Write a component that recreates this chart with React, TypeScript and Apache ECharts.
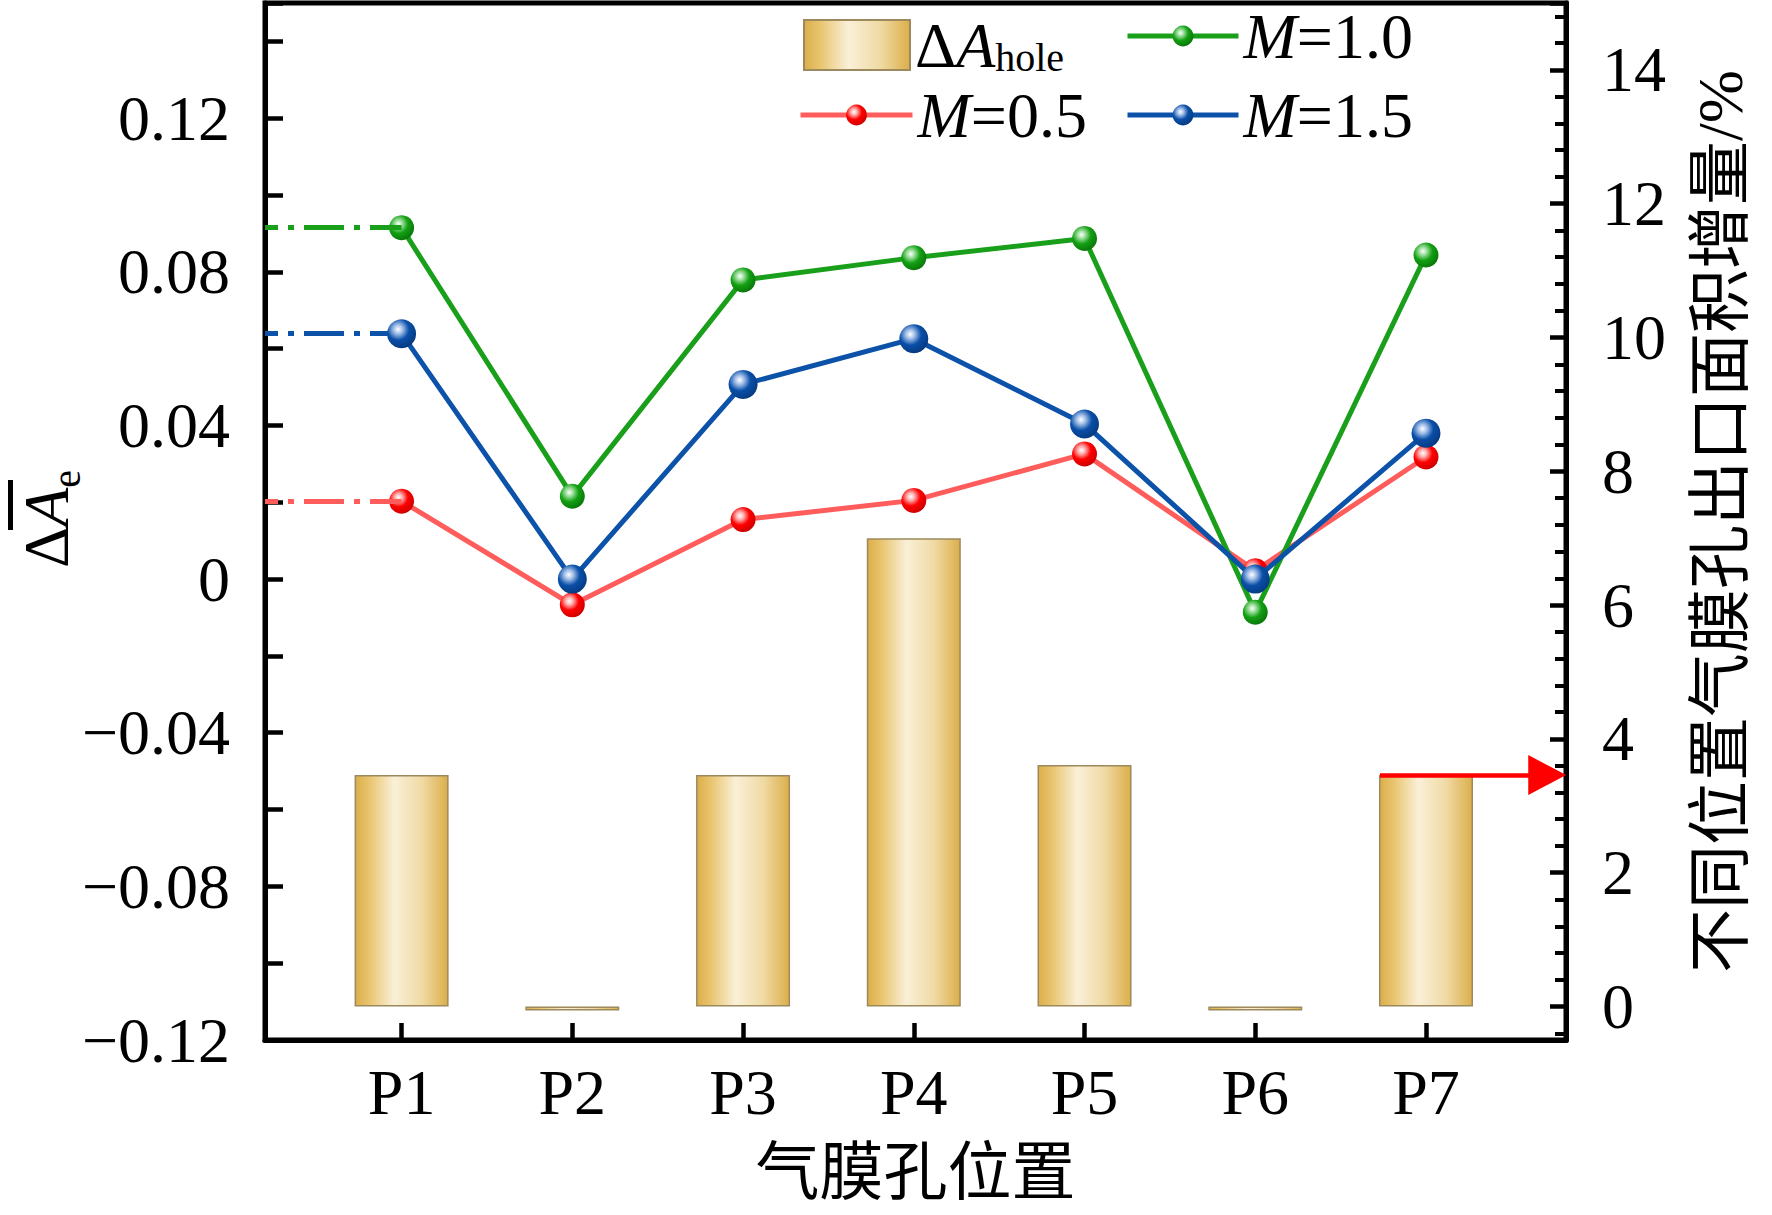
import React, { useEffect, useRef } from "react";
import * as echarts from "echarts";

// 气膜孔位置
const categories = ["P1", "P2", "P3", "P4", "P5", "P6", "P7"];
// 右轴：不同位置气膜孔出口面积增量 / %
const holeIncrease = [3.46, -0.06, 3.46, 7.0, 3.61, -0.06, 3.46];
// 左轴：ΔA_e
const m05 = [0.0203, -0.0067, 0.0155, 0.0205, 0.0326, 0.0022, 0.0318];
const m10 = [0.0915, 0.0216, 0.0779, 0.0837, 0.0887, -0.0086, 0.0844];
const m15 = [0.0639, 0.0, 0.0507, 0.0626, 0.0404, 0.0, 0.038];
const leftLabelStep = 0.04;
const rightLabelValues = [0, 2, 4, 6, 8, 10, 12, 14];

const serif = "'Liberation Serif', 'Times New Roman', serif";
const cjk = "'Liberation Serif', 'Noto Sans CJK SC', sans-serif";

const pts = (vals: number[]) => vals.map((v, i) => [i + 1, v]);

const ball = (light: string, base: string, dark: string) => ({
  type: "radial",
  x: 0.38,
  y: 0.35,
  r: 0.68,
  colorStops: [
    { offset: 0, color: "#ffffff" },
    { offset: 0.22, color: light },
    { offset: 0.55, color: base },
    { offset: 1, color: dark },
  ],
});

const dashDot = (color: string, v: number) => ({
  silent: true,
  symbol: ["none", "none"],
  label: { show: false },
  lineStyle: { color, width: 5, type: [40, 10, 6, 10], dashOffset: 27 },
  data: [[{ coord: [0.2, v] }, { coord: [1, v] }]],
});

const lineSeries = (name: string, vals: number[], lineColor: string, fill: any, size: number, z: number) => ({
  name,
  type: "line",
  xAxisIndex: 0,
  yAxisIndex: 0,
  data: pts(vals),
  symbol: "circle",
  symbolSize: size,
  lineStyle: { color: lineColor, width: 5 },
  itemStyle: { color: fill },
  z,
  markLine: dashDot(lineColor, vals[0]),
});

const mRich = {
  i: { fontFamily: serif, fontSize: 64, fontStyle: "italic", color: "#000" },
  n: { fontFamily: serif, fontSize: 64, color: "#000" },
};
const mFormatter = (name: string) => `{i|M}{n|${name.slice(1)}}`;

const App = () => {
  const chartRef = useRef<HTMLDivElement>(null);

  useEffect(() => {
    const chart = echarts.init(chartRef.current, null, { renderer: "svg" });

    chart.setOption({
      animation: false,
      backgroundColor: "#fff",
      grid: {
        left: 265,
        top: 3,
        width: 1301,
        height: 1037,
        show: true,
        borderColor: "#000",
        borderWidth: 5,
        containLabel: false,
        outerBoundsMode: "none",
      },
      legend: [
        {
          data: ["ΔAhole"],
          left: 798,
          top: 8,
          icon: "rect",
          itemWidth: 106,
          itemHeight: 50,
          formatter: () => "{d|Δ}{a|A}{s|hole}",
          textStyle: {
            rich: {
              d: { fontFamily: serif, fontSize: 64, lineHeight: 64, color: "#000" },
              a: { fontFamily: serif, fontSize: 64, lineHeight: 64, fontStyle: "italic", color: "#000" },
              s: { fontFamily: serif, fontSize: 40, lineHeight: 24, verticalAlign: "bottom", color: "#000" },
            },
          },
        },
        {
          data: ["M=1.0", "M=1.5"],
          orient: "vertical",
          left: 1120,
          top: -1,
          itemWidth: 111,
          itemHeight: 26,
          itemGap: 15,
          formatter: mFormatter,
          lineStyle: { width: 5 },
          textStyle: { lineHeight: 60, rich: mRich },
        },
        {
          data: ["M=0.5"],
          left: 793,
          top: 78,
          itemWidth: 112,
          itemHeight: 26,
          formatter: mFormatter,
          lineStyle: { width: 5 },
          textStyle: { lineHeight: 60, rich: mRich },
        },
      ],
      xAxis: {
        type: "value",
        min: 0.2,
        max: 7.82,
        splitNumber: 7,
        minInterval: 1,
        maxInterval: 1,
        name: "气膜孔位置",
        nameLocation: "middle",
        nameGap: 100,
        nameTextStyle: { fontFamily: cjk, fontSize: 64, color: "#000" },
        axisLine: { onZero: false, lineStyle: { color: "#000", width: 5 } },
        axisTick: { inside: true, length: 17, lineStyle: { color: "#000", width: 4.5 } },
        splitLine: { show: false },
        axisLabel: {
          margin: 20,
          fontFamily: serif,
          fontSize: 64,
          color: "#000",
          formatter: (v: number) => (Number.isInteger(v) && v >= 1 && v <= categories.length ? categories[v - 1] : ""),
        },
      },
      yAxis: [
        {
          type: "value",
          position: "left",
          min: -0.12,
          max: 0.15,
          interval: 0.02,
          axisLine: { show: true, onZero: false, lineStyle: { color: "#000", width: 5 } },
          axisTick: { show: true, inside: true, length: 18, lineStyle: { color: "#000", width: 4.5 } },
          splitLine: { show: false },
          axisLabel: {
            margin: 35,
            fontFamily: serif,
            fontSize: 64,
            color: "#000",
            formatter: (v: number) => {
              const k = v / leftLabelStep;
              if (Math.abs(k - Math.round(k)) > 1e-6) return "";
              if (Math.abs(v) < 1e-9) return "0";
              return v < 0 ? "\u2212" + Math.abs(v).toFixed(2) : v.toFixed(2);
            },
          },
        },
        {
          type: "value",
          position: "right",
          min: -0.5,
          max: 15,
          splitNumber: 8,
          minInterval: 2,
          maxInterval: 2,
          name: "不同位置气膜孔出口面积增量/%",
          nameLocation: "middle",
          nameRotate: 90,
          nameGap: 122,
          nameTextStyle: { fontFamily: cjk, fontSize: 64, color: "#000" },
          axisLine: { show: true, onZero: false, lineStyle: { color: "#000", width: 5 } },
          axisTick: { show: true, inside: true, length: 16, lineStyle: { color: "#000", width: 4.5 } },
          minorTick: { show: true, splitNumber: 5, length: 11, lineStyle: { color: "#000", width: 4 } },
          splitLine: { show: false },
          minorSplitLine: { show: false },
          axisLabel: {
            margin: 36,
            fontFamily: serif,
            fontSize: 64,
            color: "#000",
            formatter: (v: number) => {
              const r = Math.round(v);
              return Math.abs(v - r) < 1e-6 && rightLabelValues.includes(r) ? String(r) : "";
            },
          },
        },
      ],
      graphic: [
        {
          type: "text",
          x: 46,
          y: 519,
          rotation: Math.PI / 2,
          style: {
            text: "{d|Δ}{a|A}{e|e}",
            align: "center",
            verticalAlign: "middle",
            rich: {
              d: { fontFamily: serif, fontSize: 64, lineHeight: 80, fill: "#000" },
              a: { fontFamily: serif, fontSize: 64, lineHeight: 80, fontStyle: "italic", fill: "#000" },
              e: { fontFamily: serif, fontSize: 40, lineHeight: 40, verticalAlign: "bottom", fill: "#000" },
            },
          },
        },
        { type: "rect", shape: { x: 8, y: 480, width: 5, height: 50 }, style: { fill: "#000" } },
      ],
      series: [
        {
          name: "ΔAhole",
          type: "bar",
          xAxisIndex: 0,
          yAxisIndex: 1,
          data: pts(holeIncrease),
          barWidth: 94,
          z: 1,
          itemStyle: {
            color: {
              type: "linear",
              x: 0,
              y: 0,
              x2: 1,
              y2: 0,
              colorStops: [
                { offset: 0, color: "#DCAE4A" },
                { offset: 0.15, color: "#E8C46E" },
                { offset: 0.42, color: "#FAF0D8" },
                { offset: 0.72, color: "#F0DAA4" },
                { offset: 1, color: "#DCAE4A" },
              ],
            },
            borderColor: "#9c8a5e",
            borderWidth: 1.5,
          },
          markLine: {
            silent: true,
            symbol: ["none", "triangle"],
            symbolSize: [40, 38],
            label: { show: false },
            lineStyle: { color: "#ff0000", width: 4.5, type: "solid" },
            data: [[{ coord: [6.73, holeIncrease[6]] }, { coord: [7.71, holeIncrease[6]] }]],
          },
        },
        lineSeries("M=0.5", m05, "#ff5c5c", ball("#ffb0b0", "#ff0000", "#cc0000"), 25, 3),
        lineSeries("M=1.0", m10, "#1a9f1a", ball("#9fe09f", "#12a012", "#0a760a"), 25, 4),
        lineSeries("M=1.5", m15, "#0b52a8", ball("#a6c2ea", "#0a4fa8", "#063a80"), 29, 5),
      ],
    });

    return () => {
      chart.dispose();
    };
  }, []);

  return (
    <div
      ref={chartRef}
      style={{ position: "absolute", left: 0, top: 0, width: "1772px", height: "1215px", background: "#fff" }}
    ></div>
  );
};

export default App;
